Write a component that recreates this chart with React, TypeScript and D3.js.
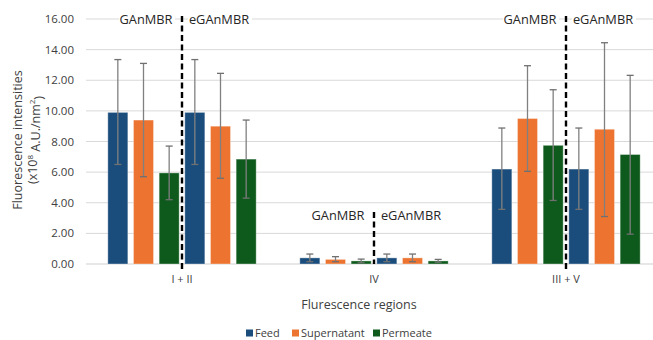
import React from "react";
import * as d3 from "d3";

const regions = ["I + II", "IV", "III + V"];
const systems = ["GAnMBR", "eGAnMBR"];
const series = ["Feed", "Supernatant", "Permeate"];
const colors = ["#1A4D7C", "#EC7430", "#0E5A1C"];

// values[region][series]
const gValues = [
  [9.9, 9.4, 5.95],
  [0.4, 0.3, 0.2],
  [6.2, 9.5, 7.75],
];
const eValues = [
  [9.9, 9.0, 6.85],
  [0.4, 0.4, 0.2],
  [6.2, 8.8, 7.15],
];
const gErrLow = [
  [6.5, 5.7, 4.2],
  [0.15, 0.15, 0.08],
  [3.57, 6.05, 4.15],
];
const gErrHigh = [
  [13.35, 13.1, 7.7],
  [0.65, 0.48, 0.32],
  [8.88, 12.95, 11.38],
];
const eErrLow = [
  [6.5, 5.6, 4.3],
  [0.15, 0.15, 0.12],
  [3.57, 3.1, 1.95],
];
const eErrHigh = [
  [13.35, 12.45, 9.4],
  [0.65, 0.65, 0.3],
  [8.88, 14.45, 12.32],
];
const yTicks = [0, 2, 4, 6, 8, 10, 12, 14, 16];

const FONT = "'Open Sans', 'Liberation Sans', sans-serif";

export default function App() {
  const W = 653, H = 340;
  const left = 86, right = 662, top = 19, bottom = 264;
  const x0 = d3.scaleBand<string>().domain(regions).range([left, right]).padding(0);
  const slots = d3.range(6).map(String);
  const x1 = d3.scaleBand<string>().domain(slots).range([x0.bandwidth() / 2 - 77, x0.bandwidth() / 2 + 77]).paddingInner(0.22).paddingOuter(0.11);
  const y = d3.scaleLinear().domain([0, 16]).range([bottom, top]);

  const bars: any[] = [];
  regions.forEach((r, ri) => {
    systems.forEach((s, si) => {
      const vals = si === 0 ? gValues : eValues;
      const lo = si === 0 ? gErrLow : eErrLow;
      const hi = si === 0 ? gErrHigh : eErrHigh;
      series.forEach((se, k) => {
        const slot = String(si * 3 + k);
        const bx = (x0(r) as number) + (x1(slot) as number);
        bars.push({ key: `${r}-${s}-${se}`, x: bx, w: x1.bandwidth(), v: vals[ri][k], lo: lo[ri][k], hi: hi[ri][k], color: colors[k] });
      });
    });
  });

  const centers = regions.map((r) => (x0(r) as number) + x0.bandwidth() / 2);
  const dividerTop = [16.2, 3.4, 16.2];
  const labelY = [16, 3.2, 16];

  return (
    <svg width={W} height={H} style={{ display: "block", position: "absolute", left: 0, top: 0, background: "#fff" }} fontFamily={FONT}>
      <rect x={0} y={0} width={W} height={H} fill="#fff" />
      {yTicks.map((t) => (
        <g key={t}>
          <line x1={left} x2={W} y1={y(t)} y2={y(t)} stroke={t === 0 ? "#cfcfcf" : "#d9d9d9"} strokeWidth={1} />
          <text x={74} y={y(t)} dy="0.35em" textAnchor="end" fontSize={11.5} fill="#404040">{t.toFixed(2)}</text>
        </g>
      ))}
      {bars.map((b) => (
        <g key={b.key}>
          <rect x={b.x} y={y(b.v)} width={b.w} height={y(0) - y(b.v)} fill={b.color} stroke="#ffffff" strokeOpacity={0.35} strokeWidth={1} />
          <line x1={b.x + b.w / 2} x2={b.x + b.w / 2} y1={y(b.lo)} y2={y(b.hi)} stroke="#808080" strokeWidth={1.3} />
          <line x1={b.x + b.w / 2 - 3.5} x2={b.x + b.w / 2 + 3.5} y1={y(b.hi)} y2={y(b.hi)} stroke="#707070" strokeWidth={1.3} />
          <line x1={b.x + b.w / 2 - 3.5} x2={b.x + b.w / 2 + 3.5} y1={y(b.lo)} y2={y(b.lo)} stroke="#707070" strokeWidth={1.3} />
        </g>
      ))}
      {centers.map((c, i) => (
        <g key={regions[i]}>
          <rect x={c - 63} y={y(labelY[i]) - 8} width={56} height={16} fill="#fff" />
          <rect x={c + 6} y={y(labelY[i]) - 8} width={64} height={16} fill="#fff" />
          <text x={c - 36} y={y(labelY[i])} dy="0.36em" textAnchor="middle" fontSize={12.8} fill="#262626">{systems[0]}</text>
          <text x={c + 37} y={y(labelY[i])} dy="0.36em" textAnchor="middle" fontSize={12.8} fill="#262626">{systems[1]}</text>
          <line x1={c} x2={c} y1={y(dividerTop[i])} y2={i === 1 ? bottom : bottom + 7} stroke="#000" strokeWidth={2.4} strokeDasharray="6,3.5" />
          <text x={c} y={279} dy="0.35em" textAnchor="middle" fontSize={11} fill="#404040">{regions[i]}</text>
        </g>
      ))}
      <text x={359} y={305} dy="0.35em" textAnchor="middle" fontSize={12.5} fill="#404040">Flurescence regions</text>
      <g transform="translate(18,140) rotate(-90)">
        <text x={0} y={0} dy="0.35em" textAnchor="middle" fontSize={12.5} fill="#404040">Fluorescence intensities</text>
      </g>
      <g transform="translate(33,140) rotate(-90)">
        <text x={0} y={0} dy="0.35em" textAnchor="middle" fontSize={12.5} fill="#404040">
          (x10<tspan fontSize={8} dy="-0.6em">8</tspan><tspan dy="0.6em"> A.U./nm</tspan><tspan fontSize={8} dy="-0.6em">2</tspan><tspan dy="0.6em">)</tspan>
        </text>
      </g>
      {series.map((s, i) => {
        const lx = [246, 292, 373][i];
        return (
          <g key={s}>
            <rect x={lx} y={329.5} width={7} height={7} fill={colors[i]} />
            <text x={lx + 9} y={333} dy="0.35em" fontSize={11} fill="#404040">{s}</text>
          </g>
        );
      })}
    </svg>
  );
}
